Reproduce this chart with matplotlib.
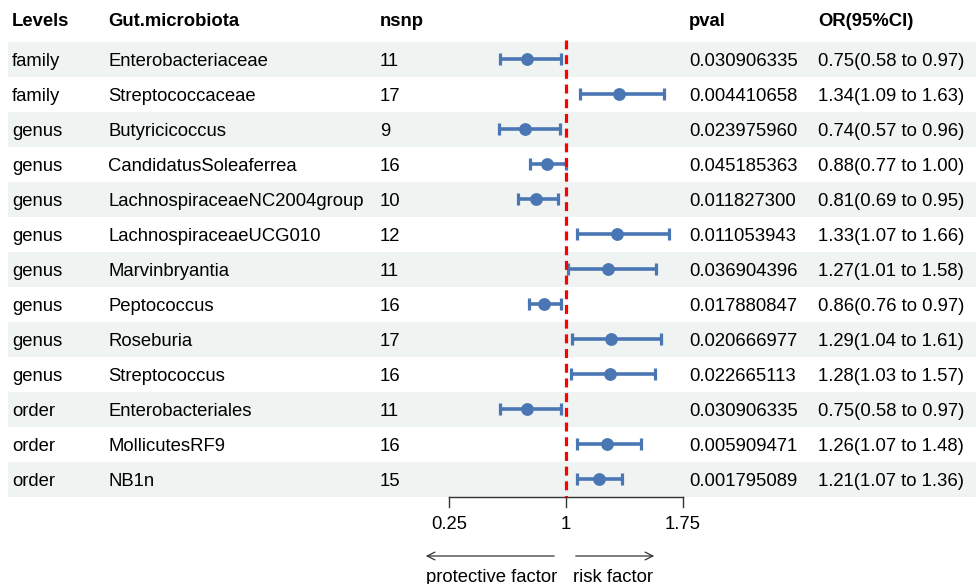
import matplotlib
matplotlib.use("Agg")
import matplotlib.pyplot as plt
import matplotlib.transforms as mtransforms

plt.rcParams['font.family'] = ['Liberation Sans', 'DejaVu Sans']

levels = ["family", "family", "genus", "genus", "genus", "genus", "genus", "genus",
          "genus", "genus", "order", "order", "order"]
microbiota = ["Enterobacteriaceae", "Streptococcaceae", "Butyricicoccus", "CandidatusSoleaferrea",
              "LachnospiraceaeNC2004group", "LachnospiraceaeUCG010", "Marvinbryantia",
              "Peptococcus", "Roseburia", "Streptococcus", "Enterobacteriales",
              "MollicutesRF9", "NB1n"]
nsnp = [11, 17, 9, 16, 10, 12, 11, 16, 17, 16, 11, 16, 15]
pval = ["0.030906335", "0.004410658", "0.023975960", "0.045185363", "0.011827300",
        "0.011053943", "0.036904396", "0.017880847", "0.020666977", "0.022665113",
        "0.030906335", "0.005909471", "0.001795089"]
or_val = [0.75, 1.34, 0.74, 0.88, 0.81, 1.33, 1.27, 0.86, 1.29, 1.28, 0.75, 1.26, 1.21]
ci_low = [0.58, 1.09, 0.57, 0.77, 0.69, 1.07, 1.01, 0.76, 1.04, 1.03, 0.58, 1.07, 1.07]
ci_high = [0.97, 1.63, 0.96, 1.00, 0.95, 1.66, 1.58, 0.97, 1.61, 1.57, 0.97, 1.48, 1.36]
headers = ["Levels", "Gut.microbiota", "nsnp", "pval", "OR(95%CI)"]
xticks = [0.25, 1, 1.75]
xtick_labels = ["0.25", "1", "1.75"]

W, H = 976, 584
fig = plt.figure(figsize=(W / 100, H / 100), dpi=100)
ax = fig.add_axes([0, 0, 1, 1])
ax.set_axis_off()

# pixel mapping: OR=1 at x=566, 156 px per unit; row i center at y = 59 + 35*i
x0, sx = 566, 156
ax.set_xlim(1 - x0 / sx, 1 + (W - x0) / sx)
y0, sy = 59, 35
ax.set_ylim((H - y0) / sy, -y0 / sy)

n = len(levels)
bg = "#eff3f2"
for i in range(n):
    if i % 2 == 0:
        ax.axhspan(i - 0.5, i + 0.5, xmin=8 / W, xmax=1, color=bg, lw=0, zorder=0)

trans = mtransforms.blended_transform_factory(fig.transFigure, ax.transData)
col_x = [12 / W, 108 / W, 380 / W, 689 / W, 818 / W]
fs = 13.3
dy = 0.06
for cx, h in zip(col_x, headers):
    ax.text(cx, -1.14 + dy, h, transform=trans, fontsize=fs, fontweight="bold", va="center", ha="left")

for i in range(n):
    vals = [levels[i], microbiota[i], str(nsnp[i]), pval[i],
            f"{or_val[i]:.2f}({ci_low[i]:.2f} to {ci_high[i]:.2f})"]
    for cx, v in zip(col_x, vals):
        ax.text(cx, i + dy, v, transform=trans, fontsize=fs, va="center", ha="left")

col = "#4a77b4"
rows = list(range(n))
ax.errorbar(or_val, rows,
            xerr=[[o - l for o, l in zip(or_val, ci_low)], [h - o for o, h in zip(or_val, ci_high)]],
            fmt="o", color=col, ms=8.2, elinewidth=2.6, capsize=4, capthick=2.3, zorder=3)

# reference line
ax.plot([1, 1], [-0.55, n - 0.5], color="#ff0000", ls=(0, (2.8, 1.8)), lw=2.3, zorder=4)

# x axis
yb = n - 0.5
ax.plot([xticks[0], xticks[-1]], [yb, yb], color="#333333", lw=1, zorder=2)
for t, lab in zip(xticks, xtick_labels):
    ax.plot([t, t], [yb, yb + 0.3], color="#333333", lw=1)
    ax.text(t, yb + 0.8, lab, fontsize=fs, ha="center", va="center")

# direction arrows
ya = (556 - y0) / sy
ax.annotate("", xy=(1 - 143 / sx, ya), xytext=(1 - 9 / sx, ya),
            arrowprops=dict(arrowstyle="->", color="#333333", lw=0.9, mutation_scale=14))
ax.annotate("", xy=(1 + 91 / sx, ya), xytext=(1 + 7 / sx, ya),
            arrowprops=dict(arrowstyle="->", color="#333333", lw=0.9, mutation_scale=14))
yl = (577 - y0) / sy
ax.text(1 - 9 / sx, yl, "protective factor", fontsize=fs, ha="right", va="center")
ax.text(1 + 7 / sx, yl, "risk factor", fontsize=fs, ha="left", va="center")

fig.savefig("out.png", dpi=100)
